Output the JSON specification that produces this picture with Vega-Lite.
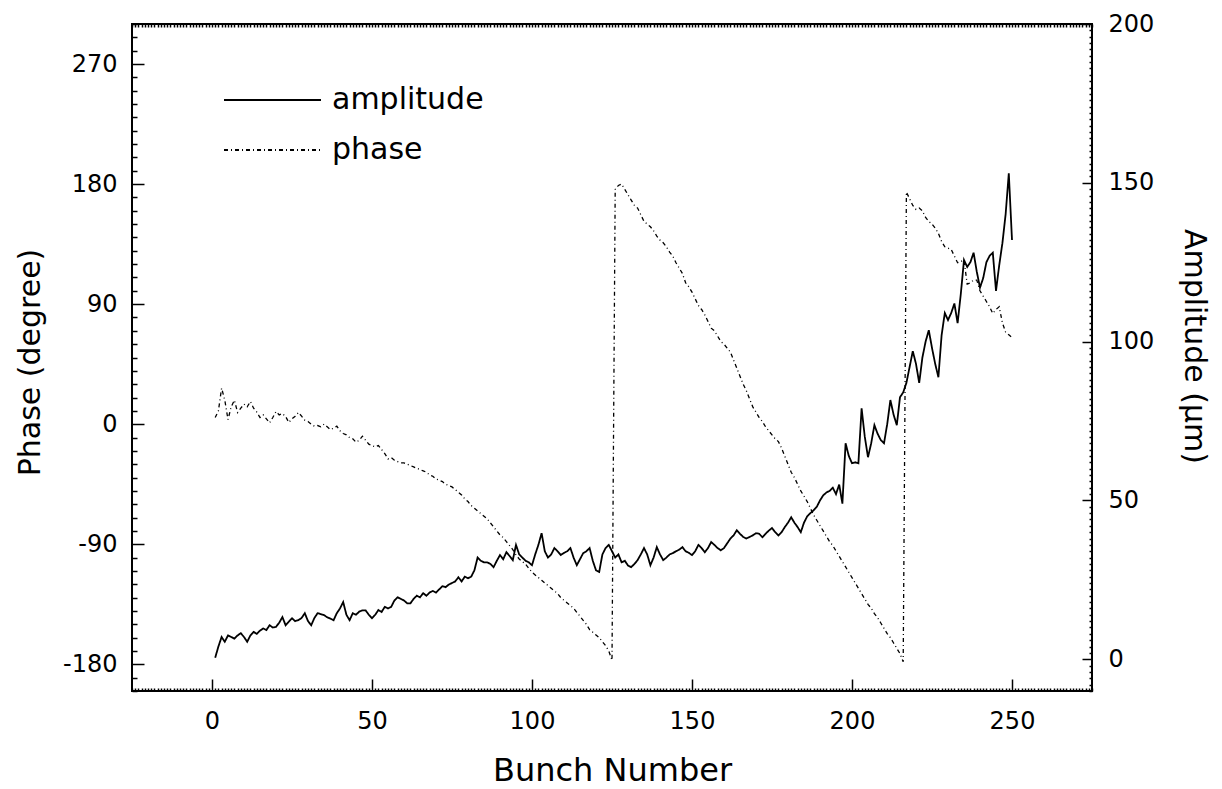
{
  "$schema": "https://vega.github.io/schema/vega-lite/v6.json",
  "width": 960,
  "height": 667,
  "autosize": {"type": "none"},
  "padding": {"left": 132, "top": 24, "right": 130, "bottom": 98},
  "background": "white",
  "datasets": {
    "d": [
      {"b":1,"a":0.5,"p":5},{"b":2,"a":4,"p":10},{"b":3,"a":7,"p":27},{"b":4,"a":5.5,"p":18},{"b":5,"a":7.5,"p":3.5},
      {"b":6,"a":7,"p":13},{"b":7,"a":6.5,"p":18},{"b":8,"a":7.5,"p":8.8},{"b":9,"a":8.2,"p":12},{"b":10,"a":7,"p":15},
      {"b":11,"a":5.5,"p":13},{"b":12,"a":7.5,"p":17},{"b":13,"a":8.6,"p":12},{"b":14,"a":8,"p":9},{"b":15,"a":9,"p":5},
      {"b":16,"a":9.7,"p":7},{"b":17,"a":9.2,"p":4},{"b":18,"a":10.7,"p":1},{"b":19,"a":10,"p":5},{"b":20,"a":10.2,"p":9.5},
      {"b":21,"a":11.5,"p":7},{"b":22,"a":13.3,"p":8},{"b":23,"a":10.7,"p":5.8},{"b":24,"a":11.8,"p":1.3},{"b":25,"a":12.9,"p":4},
      {"b":26,"a":12,"p":6},{"b":27,"a":12.3,"p":8.8},{"b":28,"a":13,"p":6},{"b":29,"a":14.5,"p":3},{"b":30,"a":12,"p":2},
      {"b":31,"a":10.7,"p":0},{"b":32,"a":13,"p":-1.5},{"b":33,"a":14.5,"p":-1},{"b":34,"a":14.2,"p":-2},{"b":35,"a":13.9,"p":0},
      {"b":36,"a":13.2,"p":-2},{"b":37,"a":12.8,"p":-4},{"b":38,"a":12.3,"p":-3},{"b":39,"a":14.5,"p":-1.5},{"b":40,"a":16,"p":-5},
      {"b":41,"a":18,"p":-7},{"b":42,"a":14,"p":-8},{"b":43,"a":12.3,"p":-10},{"b":44,"a":14.5,"p":-11},{"b":45,"a":14,"p":-13.5},
      {"b":46,"a":15,"p":-12},{"b":47,"a":15.4,"p":-9},{"b":48,"a":15.4,"p":-12},{"b":49,"a":14,"p":-15},{"b":50,"a":12.9,"p":-16},
      {"b":51,"a":14,"p":-17},{"b":52,"a":15.5,"p":-16},{"b":53,"a":14.9,"p":-19},{"b":54,"a":16.5,"p":-22},{"b":55,"a":16,"p":-26},
      {"b":56,"a":16.5,"p":-25},{"b":57,"a":18.5,"p":-27},{"b":58,"a":19.5,"p":-28},{"b":59,"a":19,"p":-29},{"b":60,"a":18.5,"p":-29},
      {"b":61,"a":17.6,"p":-30},{"b":62,"a":17.6,"p":-31},{"b":63,"a":19,"p":-32},{"b":64,"a":20,"p":-33},{"b":65,"a":19.5,"p":-34},
      {"b":66,"a":20.8,"p":-35},{"b":67,"a":20,"p":-36},{"b":68,"a":21,"p":-38},{"b":69,"a":21.5,"p":-39},{"b":70,"a":21,"p":-41},
      {"b":71,"a":22,"p":-42},{"b":72,"a":23,"p":-43},{"b":73,"a":22.7,"p":-45},{"b":74,"a":23.5,"p":-46},{"b":75,"a":24,"p":-47},
      {"b":76,"a":24.5,"p":-49},{"b":77,"a":25.8,"p":-51},{"b":78,"a":24.5,"p":-53},{"b":79,"a":26,"p":-56},{"b":80,"a":25.5,"p":-58},
      {"b":81,"a":26,"p":-61},{"b":82,"a":28,"p":-63},{"b":83,"a":32,"p":-65},{"b":84,"a":31,"p":-67},{"b":85,"a":30.5,"p":-69},
      {"b":86,"a":30.5,"p":-71},{"b":87,"a":30,"p":-74},{"b":88,"a":29,"p":-77},{"b":89,"a":31,"p":-80},{"b":90,"a":32.8,"p":-83},
      {"b":91,"a":31.5,"p":-85},{"b":92,"a":33.7,"p":-88},{"b":93,"a":32.5,"p":-91},{"b":94,"a":31.2,"p":-94},{"b":95,"a":36,"p":-98},
      {"b":96,"a":33,"p":-101},{"b":97,"a":32,"p":-103},{"b":98,"a":31,"p":-105},{"b":99,"a":30.5,"p":-108},{"b":100,"a":29.6,"p":-111},
      {"b":101,"a":33,"p":-113},{"b":102,"a":36,"p":-115},{"b":103,"a":39.7,"p":-117},{"b":104,"a":34,"p":-119},{"b":105,"a":32,"p":-121},
      {"b":106,"a":33,"p":-123},{"b":107,"a":35,"p":-125},{"b":108,"a":34,"p":-127},{"b":109,"a":32.8,"p":-130},{"b":110,"a":33.5,"p":-132},
      {"b":111,"a":34,"p":-134},{"b":112,"a":35,"p":-136},{"b":113,"a":32,"p":-138},{"b":114,"a":29.6,"p":-141},{"b":115,"a":31.5,"p":-144},
      {"b":116,"a":33.4,"p":-147},{"b":117,"a":34,"p":-150},{"b":118,"a":35,"p":-154},{"b":119,"a":31,"p":-156},{"b":120,"a":28,"p":-158},
      {"b":121,"a":27.5,"p":-160},{"b":122,"a":33,"p":-163},{"b":123,"a":35,"p":-166},{"b":124,"a":36,"p":-170},{"b":125,"a":34,"p":-177},
      {"b":126,"a":32,"p":176},{"b":127,"a":33,"p":179},{"b":128,"a":30.5,"p":180},{"b":129,"a":31,"p":176},{"b":130,"a":29.5,"p":172},
      {"b":131,"a":29,"p":168},{"b":132,"a":30,"p":164},{"b":133,"a":31.2,"p":162},{"b":134,"a":33,"p":157},{"b":135,"a":35,"p":152},
      {"b":136,"a":33,"p":150},{"b":137,"a":29.6,"p":148},{"b":138,"a":32,"p":145},{"b":139,"a":35.3,"p":141},{"b":140,"a":33,"p":138},
      {"b":141,"a":31.2,"p":136},{"b":142,"a":32,"p":133},{"b":143,"a":33,"p":129},{"b":144,"a":33.4,"p":126},{"b":145,"a":34,"p":121},
      {"b":146,"a":34.5,"p":117},{"b":147,"a":35.3,"p":113},{"b":148,"a":34,"p":106},{"b":149,"a":33.5,"p":103},{"b":150,"a":32.8,"p":99},
      {"b":151,"a":34,"p":94},{"b":152,"a":36,"p":89},{"b":153,"a":35,"p":86},{"b":154,"a":33.7,"p":82},{"b":155,"a":35,"p":77},
      {"b":156,"a":36.9,"p":72},{"b":157,"a":36,"p":70},{"b":158,"a":35,"p":66},{"b":159,"a":34.3,"p":62},{"b":160,"a":35,"p":60},
      {"b":161,"a":36.5,"p":57},{"b":162,"a":38,"p":54},{"b":163,"a":39,"p":48},{"b":164,"a":40.6,"p":42},{"b":165,"a":39.5,"p":36},
      {"b":166,"a":38.5,"p":30},{"b":167,"a":38,"p":25},{"b":168,"a":38.5,"p":19},{"b":169,"a":39,"p":13},{"b":170,"a":39.7,"p":9},
      {"b":171,"a":39.5,"p":5},{"b":172,"a":38.4,"p":2},{"b":173,"a":39.5,"p":-2},{"b":174,"a":40.5,"p":-5},{"b":175,"a":41.3,"p":-8},
      {"b":176,"a":40,"p":-11},{"b":177,"a":39,"p":-13},{"b":178,"a":40,"p":-18},{"b":179,"a":41.6,"p":-24},{"b":180,"a":43,"p":-30},
      {"b":181,"a":44.7,"p":-36},{"b":182,"a":43,"p":-40},{"b":183,"a":41.6,"p":-45},{"b":184,"a":40,"p":-50},{"b":185,"a":43,"p":-54},
      {"b":186,"a":45,"p":-58},{"b":187,"a":46,"p":-63},{"b":188,"a":46.9,"p":-68},{"b":189,"a":48,"p":-72},{"b":190,"a":50,"p":-76},
      {"b":191,"a":51.6,"p":-80},{"b":192,"a":52.5,"p":-84},{"b":193,"a":53,"p":-88},{"b":194,"a":54,"p":-91},{"b":195,"a":52,"p":-95},
      {"b":196,"a":55,"p":-99},{"b":197,"a":49,"p":-103},{"b":198,"a":68,"p":-107},{"b":199,"a":64,"p":-111},{"b":200,"a":61.7,"p":-115},
      {"b":201,"a":62,"p":-119},{"b":202,"a":61.7,"p":-123},{"b":203,"a":79,"p":-127},{"b":204,"a":70,"p":-131},{"b":205,"a":63.6,"p":-135},
      {"b":206,"a":68,"p":-138},{"b":207,"a":73.7,"p":-142},{"b":208,"a":71,"p":-145},{"b":209,"a":69,"p":-149},{"b":210,"a":68,"p":-153},
      {"b":211,"a":74,"p":-157},{"b":212,"a":81.6,"p":-160},{"b":213,"a":77,"p":-164},{"b":214,"a":73.7,"p":-168},{"b":215,"a":82.5,"p":-172},
      {"b":216,"a":84,"p":-178},{"b":217,"a":87,"p":174},{"b":218,"a":92,"p":169},{"b":219,"a":97,"p":164},{"b":220,"a":93,"p":161},
      {"b":221,"a":87,"p":162},{"b":222,"a":95,"p":160},{"b":223,"a":100,"p":155},{"b":224,"a":103.6,"p":152},{"b":225,"a":98,"p":150},
      {"b":226,"a":93,"p":147},{"b":227,"a":88.8,"p":143},{"b":228,"a":102,"p":137},{"b":229,"a":109,"p":133},{"b":230,"a":106.8,"p":132},
      {"b":231,"a":109,"p":131},{"b":232,"a":112,"p":126},{"b":233,"a":105.8,"p":121},{"b":234,"a":115,"p":122},{"b":235,"a":125.7,"p":123},
      {"b":236,"a":123.5,"p":105},{"b":237,"a":125,"p":106},{"b":238,"a":128,"p":108},{"b":239,"a":122,"p":108},{"b":240,"a":117,"p":100},
      {"b":241,"a":120,"p":96},{"b":242,"a":125,"p":92},{"b":243,"a":127,"p":88},{"b":244,"a":128,"p":83},{"b":245,"a":116,"p":86},
      {"b":246,"a":124,"p":88},{"b":247,"a":131,"p":76},{"b":248,"a":140,"p":69},{"b":249,"a":153,"p":67},{"b":250,"a":132,"p":65}
    ]
  },
  "data": {"name": "d"},
  "layer": [
    {
      "mark": {"type": "line", "color": "black", "strokeWidth": 1.3},
      "encoding": {
        "x": {
          "field": "b", "type": "quantitative",
          "scale": {"domain": [-25, 275], "nice": false, "zero": false},
          "axis": {
            "orient": "bottom",
            "title": "Bunch Number",
            "titleFontSize": 32,
            "titleBaseline": "alphabetic",
            "titleY": 89,
            "tickCount": 300,
            "labelExpr": "datum.value % 50 === 0 ? '' + datum.value : ''",
            "labelFontSize": 24,
            "labelPadding": 30,
            "labelOverlap": false,
            "labelFlush": false,
            "labelBound": false,
            "tickSize": {"condition": {"test": "datum.value % 50 === 0", "value": -12}, "value": -3}
          }
        },
        "y": {
          "field": "p", "type": "quantitative",
          "scale": {"domain": [-200, 300], "nice": false, "zero": false},
          "axis": {
            "orient": "left",
            "title": "Phase (degree)",
            "titleFontSize": 30,
            "titleAngle": -90,
            "titleBaseline": "middle",
            "titleX": -102,
            "titleY": 338,
            "tickCount": 50,
            "labelExpr": "datum.value % 90 === 0 ? '' + datum.value : ''",
            "labelFontSize": 24,
            "labelPadding": 27,
            "labelOverlap": false,
            "labelFlush": false,
            "labelBound": false,
            "tickSize": {"condition": {"test": "datum.value % 90 === 0", "value": -12}, "value": -5}
          }
        },
        "strokeDash": {
          "datum": "phase",
          "type": "nominal",
          "scale": {"domain": ["amplitude", "phase"], "range": [[1, 0], [4, 3, 1, 3]]},
          "legend": {
            "title": null,
            "orient": "none",
            "legendX": 91,
            "legendY": 56,
            "padding": 0,
            "clipHeight": 40,
            "rowPadding": 10,
            "symbolType": "stroke",
            "symbolSize": 9409,
            "symbolStrokeWidth": 2,
            "symbolStrokeColor": "black",
            "labelFontSize": 30,
            "labelFont": "DejaVu Sans",
            "labelColor": "black",
            "labelOffset": 10
          }
        }
      }
    },
    {
      "mark": {"type": "line", "color": "black", "strokeWidth": 1.8},
      "encoding": {
        "x": {
          "field": "b", "type": "quantitative",
          "axis": {
            "orient": "top",
            "title": null,
            "labels": false,
            "tickCount": 300,
            "tickSize": -3
          }
        },
        "y": {
          "field": "a", "type": "quantitative",
          "scale": {"domain": [-10, 200], "nice": false, "zero": false},
          "axis": {
            "orient": "right",
            "title": "Amplitude (µm)",
            "titleFontSize": 30,
            "titleAngle": 90,
            "titleBaseline": "middle",
            "titleX": 101,
            "titleY": 322,
            "tickCount": 105,
            "labelExpr": "datum.value % 50 === 0 ? '' + datum.value : ''",
            "labelFontSize": 24,
            "labelPadding": 26,
            "labelOverlap": false,
            "labelFlush": false,
            "labelBound": false,
            "tickSize": {"condition": {"test": "datum.value % 50 === 0", "value": -10}, "value": -3}
          }
        },
        "strokeDash": {"datum": "amplitude", "type": "nominal"}
      }
    }
  ],
  "resolve": {"scale": {"y": "independent"}, "axis": {"x": "independent"}},
  "config": {
    "view": {"stroke": "black", "strokeWidth": 2},
    "axis": {
      "grid": false,
      "domain": false,
      "labelFont": "DejaVu Sans",
      "titleFont": "DejaVu Sans",
      "labelColor": "black",
      "titleColor": "black",
      "tickColor": "black",
      "tickWidth": 1.5,
      "titleFontWeight": "normal"
    }
  }
}
